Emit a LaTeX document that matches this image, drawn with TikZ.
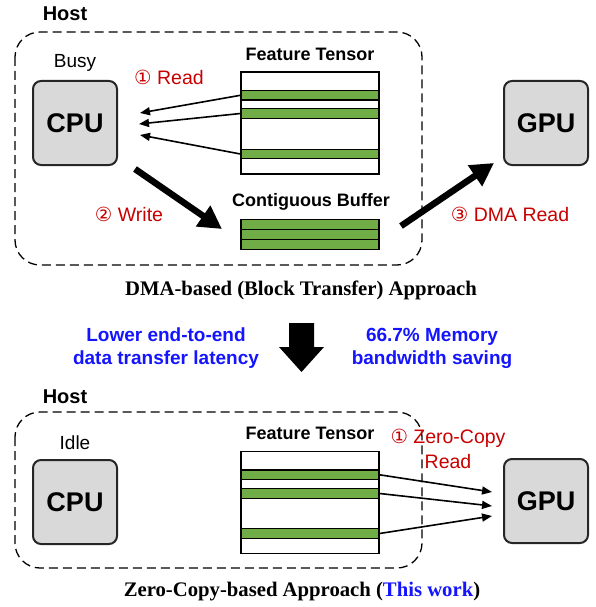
\documentclass[tikz,border=0pt]{standalone}
\usepackage{fontspec}
\setmainfont{Liberation Sans}
\newfontfamily\serifcap{Liberation Serif}
\newfontfamily\circfont{DejaVu Sans}
\usetikzlibrary{arrows.meta}
\definecolor{cellgreen}{HTML}{70AD47}
\definecolor{boxgray}{HTML}{D9D9D9}
\definecolor{notered}{HTML}{C80000}
\definecolor{gainblue}{HTML}{1414FF}
\newcommand{\fsz}[2]{\fontsize{#1}{#2}\selectfont}
\newcommand{\circno}[1]{{\circfont #1}}

\begin{document}
\begin{tikzpicture}[x=1pt,y=-1pt]
			\tikzstyle{proc}=[draw=black!85,line width=2pt,fill=boxgray,rounded corners=8pt,minimum width=84pt,minimum height=84pt,font=\bfseries\fsz{27}{27}]
			\tikzstyle{host}=[draw,line width=1.3pt,dash pattern=on 9pt off 5pt,rounded corners=25pt]
			\tikzstyle{tensor}=[draw,line width=1.2pt,fill=white,minimum width=138pt,minimum height=102pt,inner sep=0pt]
			\tikzstyle{cell}=[draw,line width=1.2pt,fill=cellgreen,minimum width=138pt,minimum height=9.5pt,inner sep=0pt]
			\tikzstyle{title}=[font=\bfseries\fsz{20}{20}]
			\tikzstyle{label}=[font=\bfseries\fsz{18}{18}]
			\tikzstyle{state}=[font=\fsz{19}{19}]
			\tikzstyle{note}=[text=notered,font=\fsz{19.5}{25}]
			\tikzstyle{gain}=[text=gainblue,font=\bfseries\fsz{19}{23},align=center]
			\tikzstyle{caption}=[font=\serifcap\bfseries\fsz{20.7}{20.7}]
			\tikzstyle{thin}=[line width=1.6pt,-{Triangle[length=10pt,width=8pt]}]
			\tikzstyle{thick}=[line width=6.5pt,-{Triangle[length=23pt,width=24pt]}]
			\useasboundingbox (0,0) rectangle (595,607);
			
			% DMA-based approach
			\node[title] (hostA) at (65,14) {Host};
			\draw[host] (15,32) rectangle (422,265);
			\node[state] (busy) at (75,63) {Busy};
			\node[proc] (cpuA) at (75,123) {CPU};
			\node[proc] (gpuA) at (546,123) {GPU};
			\node[label] (ftA) at (310,54) {Feature Tensor};
			\node[tensor] (tA) at (310,123) {};
			\node[cell] (a1) at (310,95.3) {};
			\node[cell] (a2) at (310,113.5) {};
			\node[cell] (a3) at (310,154) {};
			\node[label] (cbA) at (311,202) {Contiguous Buffer};
			\node[cell,minimum height=10.2pt] (b1) at (310,224.3) {};
			\node[cell,minimum height=10.2pt] (b2) at (310,234.5) {};
			\node[cell,minimum height=10.2pt] (b3) at (310,244.7) {};
			\node[note] (rd) at (169,77) {\circno{①} Read};
			\node[note] (wr) at (129,214) {\circno{②} Write};
			\node[note] (dma) at (510,214) {\circno{③} DMA Read};
			\coordinate (c1) at (140,113);
			\coordinate (c2) at (139,124);
			\coordinate (c3) at (140,135);
			\draw[thin] (a1.west) -- (c1);
			\draw[thin] (a2.west) -- (c2);
			\draw[thin] (a3.west) -- (c3);
			\coordinate (ws) at (135,169);
			\coordinate (we) at (222,229);
			\draw[thick] (ws) -- (we);
			\coordinate (ds) at (401,226);
			\coordinate (de) at (494,163);
			\draw[thick] (ds) -- (de);
			\node[caption] (capA) at (301,290) {DMA-based (Block Transfer) Approach};
			
			% gains
			\node[gain] (lat) at (166,348) {Lower end-to-end\\data transfer latency};
			\node[gain] (bw) at (432,348) {66.7\% Memory\\bandwidth saving};
			\fill (289,323) -- (314,323) -- (314,347) -- (324,347) -- (301.5,372) -- (279,347) -- (289,347) -- cycle;
			
			% zero-copy approach
			\node[title] (hostB) at (65,397) {Host};
			\draw[host] (15,412) rectangle (422,568);
			\node[state] (idle) at (75,443) {Idle};
			\node[proc] (cpuB) at (75,502) {CPU};
			\node[proc] (gpuB) at (546,501) {GPU};
			\node[label] (ftB) at (310,433) {Feature Tensor};
			\node[tensor] (tB) at (310,502.5) {};
			\node[cell] (z1) at (310,474.8) {};
			\node[cell] (z2) at (310,493.5) {};
			\node[cell] (z3) at (310,533.5) {};
			\node[note,align=center] (zc) at (448,449) {\circno{①} Zero-Copy\\Read};
			\coordinate (g1) at (492,492);
			\coordinate (g2) at (492,506);
			\coordinate (g3) at (492,516);
			\draw[thin] (z1.east) -- (g1);
			\draw[thin] (z2.east) -- (g2);
			\draw[thin] (z3.east) -- (g3);
			\node[caption] (capB) at (302,592) {Zero-Copy-based Approach (\textcolor{gainblue}{This work})};
			
			;\end{tikzpicture}
\end{document}
